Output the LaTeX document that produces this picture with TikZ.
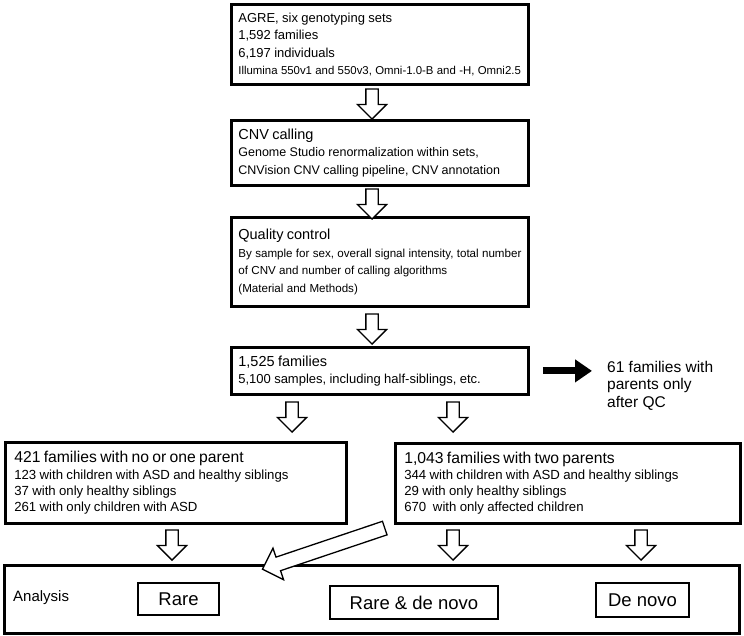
\documentclass[tikz,border=0pt]{standalone}
\usepackage{fontspec}
\setmainfont{Liberation Sans}
\usetikzlibrary{shapes.arrows,arrows.meta}
\newcommand\HdA{\fontsize{14.5}{17}\selectfont}
\newcommand\SbA{\fontsize{11.6}{17.5}\selectfont}
\newcommand\SbE{\fontsize{11.4}{17.5}\selectfont}
\newcommand\SbC{\fontsize{12.5}{17.5}\selectfont}
\newcommand\SbD{\fontsize{13}{17.5}\selectfont}
\newcommand\HdB{\fontsize{15.7}{18}\selectfont}
\newcommand\SbB{\fontsize{13.2}{16.2}\selectfont}
\tikzset{
  box/.style={draw, line width=2.8pt, anchor=north west, inner xsep=7pt, inner ysep=0pt, align=left},
  lbl/.style={draw, line width=2.4pt, inner sep=0pt, font=\fontsize{18.5}{20}\selectfont},
  harrow/.style={single arrow, draw, fill=white, line width=1.3pt, inner sep=5.5pt,
    single arrow head extend=8.5pt, single arrow tip angle=90, minimum height=30pt},
}
\begin{document}
\begin{tikzpicture}[x=1pt,y=-1pt]
\useasboundingbox (0,0) rectangle (744,635);
% top chain
\node[box, minimum width=297pt, minimum height=80pt, text width=283pt] (b1) at (230,3)
  {{\fontsize{13}{17}\selectfont AGRE, six genotyping sets\par}{\SbD 1,592 families\\ 6,197 individuals\par}{\SbE\mbox{Illumina 550v1 and 550v3, Omni-1.0-B and -H, Omni2.5}\par}\vspace*{3pt}};
\node[box, minimum width=297pt, minimum height=65pt, text width=283pt] (b2) at (230,119)
  {{\HdA CNV calling\par}{\SbC Genome Studio renormalization within sets,\\\mbox{CNVision CNV calling pipeline, CNV annotation}\par}};
\node[box, minimum width=297pt, minimum height=89pt, text width=283pt] (b3) at (230,216)
  {{\HdA Quality control\par}{\SbA \mbox{By sample for sex, overall signal intensity, total number}\\of CNV and number of calling algorithms\\(Material and Methods)\par}};
\node[box, minimum width=297pt, minimum height=47pt, text width=283pt] (b4) at (230,346)
  {{\HdA 1,525 families\par}{\SbD 5,100 samples, including half-siblings, etc.\par}};
\node[anchor=north west, inner sep=0pt, align=left, font=\fontsize{15.5}{17.5}\selectfont] (qc) at (607,361)
  {61 families with\\parents only\\after QC};
\draw[line width=7pt, -{Triangle[length=17pt,width=22pt]}] ([xshift=13pt]b4.east) -- ([xshift=-15pt]b4.east -| qc.west);
% second level
\node[box, line width=2.6pt, minimum width=341pt, minimum height=81pt, text width=323pt, inner xsep=9pt] (b5) at (4,441)
  {{\HdB 421 families with no or one parent\par}{\SbB 123 with children with ASD and healthy siblings\\37 with only healthy siblings\\261 with only children with ASD\par}};
\node[box, line width=2.6pt, minimum width=345pt, minimum height=80pt, text width=327pt, inner xsep=9pt] (b6) at (394,442)
  {{\HdB 1,043 families with two parents\par}{\SbB 344 with children with ASD and healthy siblings\\29 with only healthy siblings\\670\ \ with only affected children\par}};
% analysis
\node[draw, line width=2.6pt, anchor=north west, minimum width=735pt, minimum height=68pt, inner sep=0pt] (an) at (3,564) {};
\node[anchor=west, inner sep=0pt, font=\fontsize{15}{17}\selectfont] (antxt) at (13,598) {Analysis};
\node[lbl, minimum width=81pt, minimum height=32pt] (rare) at (178.5,599) {Rare};
\node[lbl, minimum width=168pt, minimum height=33pt] (rdn) at (414,602.5) {Rare \& de novo};
\node[lbl, minimum width=93pt, minimum height=34pt] (dn) at (642.5,600) {De novo};
% hollow arrows
\node[harrow, rotate=-90] (a1) at (372,101) {};
\node[harrow, rotate=-90] (a2) at (372,201) {};
\node[harrow, rotate=-90] (a3) at (372,326) {};
\node[harrow, rotate=-90] (a4) at (292,414) {};
\node[harrow, rotate=-90] (a5) at (453,414) {};
\node[harrow, rotate=-90] (a6) at (172,542) {};
\node[harrow, rotate=-90] (a7) at (453,542) {};
\node[harrow, rotate=-90] (a8) at (641,542) {};
\node[harrow, rotate=198.6, minimum height=129pt, inner sep=6.5pt, single arrow head extend=9.5pt] (a9) at (327,547.5) {};
\end{tikzpicture}
\end{document}
